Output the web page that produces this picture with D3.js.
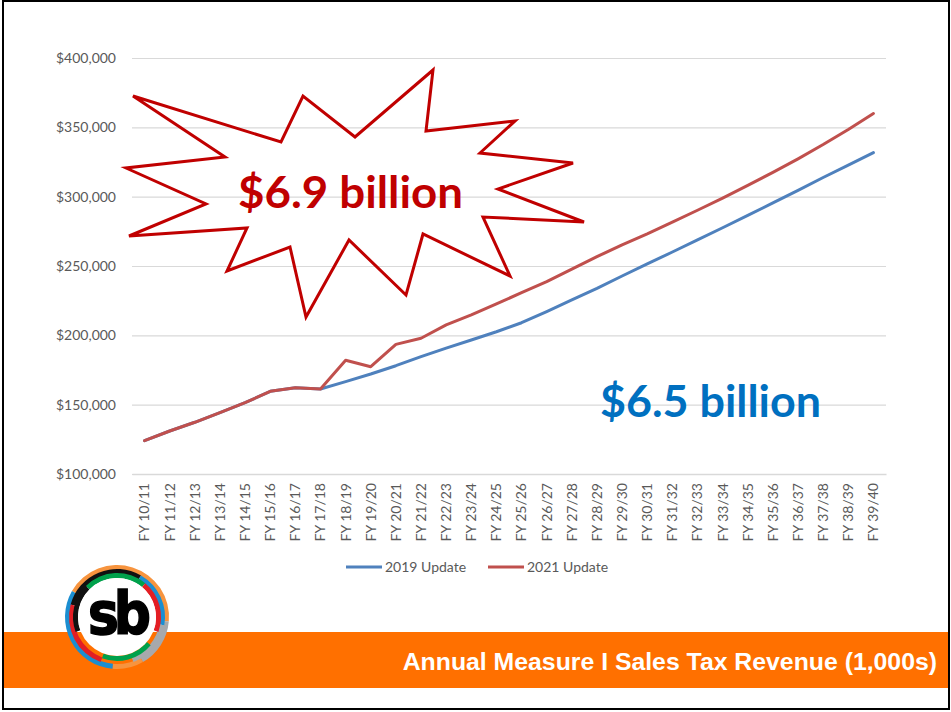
<!DOCTYPE html>
<html>
<head>
<meta charset="utf-8">
<script src="https://cdn.jsdelivr.net/npm/d3@7"></script>
<style>
  body { margin: 0; background: #fff; }
  svg { display: block; }
</style>
</head>
<body>
<div id="chart"></div>
<script>
// fiscal years on the x axis
var fiscalYears = ["FY 10/11", "FY 11/12", "FY 12/13", "FY 13/14", "FY 14/15", "FY 15/16",
  "FY 16/17", "FY 17/18", "FY 18/19", "FY 19/20", "FY 20/21", "FY 21/22", "FY 22/23",
  "FY 23/24", "FY 24/25", "FY 25/26", "FY 26/27", "FY 27/28", "FY 28/29", "FY 29/30",
  "FY 30/31", "FY 31/32", "FY 32/33", "FY 33/34", "FY 34/35", "FY 35/36", "FY 36/37",
  "FY 37/38", "FY 38/39", "FY 39/40"];

// revenue in $1,000s
var update2019 = [124000, 131000, 137300, 144200, 151400, 159600, 162200, 161300, 166600, 172100,
  178100, 184600, 190800, 196600, 202600, 209100, 217100, 225500, 233900, 242800,
  251500, 260100, 268800, 277600, 286500, 295500, 304600, 313800, 322800, 331800];
var update2021 = [124000, 131000, 137300, 144200, 151400, 159600, 162200, 161300, 182000, 177400,
  193500, 197900, 207500, 214700, 222600, 230800, 238700, 247800, 256700, 265300,
  273200, 281600, 290200, 299000, 308100, 317500, 327300, 337600, 348500, 360000];

var seriesNames = ["2019 Update", "2021 Update"];
var seriesColors = ["#4F81BD", "#C0504D"];
var yTicks = [100000, 150000, 200000, 250000, 300000, 350000, 400000];

var calloutBig = "$6.9 billion";
var calloutSmall = "$6.5 billion";
var footerTitle = "Annual Measure I Sales Tax Revenue (1,000s)";

var width = 951, height = 712;
var plot = {left: 132, right: 886, top: 58, bottom: 474};

var svg = d3.select("#chart").append("svg")
  .attr("width", width)
  .attr("height", height);

svg.append("rect").attr("width", width).attr("height", height).attr("fill", "#fff");

var x = d3.scaleBand().domain(fiscalYears).range([plot.left, plot.right]);
var y = d3.scaleLinear().domain([100000, 400000]).range([plot.bottom, plot.top]);
var cx = function(d) { return x(d) + x.bandwidth() / 2; };

// y axis + gridlines
var yAxis = svg.append("g")
  .attr("transform", "translate(" + plot.left + ",0)")
  .call(d3.axisLeft(y)
    .tickValues(yTicks)
    .tickSize(-(plot.right - plot.left))
    .tickPadding(16)
    .tickFormat(function(v) { return "$" + d3.format(",")(v); }));
yAxis.select(".domain").remove();
yAxis.selectAll("line").attr("stroke", "#D9D9D9").attr("stroke-width", 1.2);
yAxis.selectAll("text")
  .attr("fill", "#595959")
  .style("font-family", "Lato, 'Open Sans', sans-serif")
  .style("font-size", "14px");

// x axis with vertical labels
var xAxis = svg.append("g")
  .attr("transform", "translate(0," + plot.bottom + ")")
  .call(d3.axisBottom(x).tickSize(0));
xAxis.select(".domain").attr("stroke", "#D9D9D9").attr("stroke-width", 1.5);
xAxis.selectAll("text")
  .attr("transform", "rotate(-90)")
  .attr("x", -9)
  .attr("y", 0)
  .attr("dy", "0.35em")
  .style("text-anchor", "end")
  .attr("fill", "#595959")
  .style("font-family", "Lato, 'Open Sans', sans-serif")
  .style("font-size", "14px");

// lines
var line = d3.line()
  .x(function(d, i) { return cx(fiscalYears[i]); })
  .y(function(d) { return y(d); });

[update2019, update2021].forEach(function(values, k) {
  svg.append("path")
    .datum(values)
    .attr("fill", "none")
    .attr("stroke", seriesColors[k])
    .attr("stroke-width", 3)
    .attr("stroke-linejoin", "round")
    .attr("stroke-linecap", "round")
    .attr("d", line);
});

// legend
var legend = svg.append("g").attr("transform", "translate(346,567)");
var legendX = [0, 142];
seriesNames.forEach(function(name, k) {
  var g = legend.append("g").attr("transform", "translate(" + legendX[k] + ",0)");
  g.append("line").attr("x1", 0).attr("x2", 36).attr("y1", 0).attr("y2", 0)
    .attr("stroke", seriesColors[k]).attr("stroke-width", 3);
  g.append("text").attr("x", 39).attr("y", 0).attr("dy", "0.35em")
    .attr("fill", "#595959")
    .style("font-family", "Lato, 'Open Sans', sans-serif")
    .style("font-size", "14px")
    .text(name);
});

// starburst callout (hand-placed shape, like the slide's)
var burst = [[133, 96], [281, 142], [303, 96], [355, 137], [433, 70], [426, 131], [515, 121],
  [480, 153], [573, 163], [498, 189], [584, 222], [483, 217], [510, 276], [423, 234],
  [406, 295], [349, 240], [306, 317], [290, 247], [227, 271], [247, 228], [129, 236],
  [206, 204], [126, 168], [225, 157]];
svg.append("path")
  .attr("d", "M" + burst.join("L") + "Z")
  .attr("fill", "none")
  .attr("stroke", "#C00000")
  .attr("stroke-width", 3)
  .attr("stroke-linejoin", "miter");

svg.append("text")
  .attr("x", 238).attr("y", 208)
  .attr("textLength", 225).attr("lengthAdjust", "spacingAndGlyphs")
  .attr("fill", "#C00000")
  .style("font-family", "Lato, 'Open Sans', sans-serif")
  .style("font-weight", "bold")
  .style("font-size", "44px")
  .text(calloutBig);

svg.append("text")
  .attr("x", 600).attr("y", 417)
  .attr("textLength", 221).attr("lengthAdjust", "spacingAndGlyphs")
  .attr("fill", "#0070C0")
  .style("font-family", "Lato, 'Open Sans', sans-serif")
  .style("font-weight", "bold")
  .style("font-size", "44px")
  .text(calloutSmall);

// footer band
svg.append("rect")
  .attr("x", 3).attr("y", 632).attr("width", 946).attr("height", 56)
  .attr("fill", "#FF7000");
svg.append("text")
  .attr("x", 937).attr("y", 670)
  .attr("text-anchor", "end")
  .attr("fill", "#fff")
  .style("font-family", "'Liberation Sans', Arial, sans-serif")
  .style("font-weight", "bold")
  .style("font-size", "24.8px")
  .text(footerTitle);

// sb logo
var logo = svg.append("g").attr("transform", "translate(117,617)");
var rings = [
  {r0: 47, r1: 52, segs: [["#F7943E", -60, 95], ["#A7A9AC", 95, 150], ["#F7943E", 150, 185], ["#1B8ED1", 185, 300]]},
  {r0: 43, r1: 48, segs: [["#111", -75, 30], ["#1B8ED1", 30, 100], ["#A7A9AC", 100, 160], ["#E31E24", 200, 285]]},
  {r0: 39, r1: 44, segs: [["#00A14B", -45, 40], ["#E31E24", 40, 110], ["#00A14B", 130, 200], ["#111", 250, 315]]}
];
var arc = d3.arc();
rings.forEach(function(ring) {
  ring.segs.forEach(function(s) {
    logo.append("path")
      .attr("d", arc({innerRadius: ring.r0, outerRadius: ring.r1,
        startAngle: s[1] * Math.PI / 180, endAngle: s[2] * Math.PI / 180}))
      .attr("fill", s[0]);
  });
});
logo.append("circle").attr("r", 39).attr("fill", "#fff");
logo.append("text")
  .attr("x", 0).attr("y", 15)
  .attr("text-anchor", "middle")
  .attr("transform", "scale(1,1.12)")
  .attr("fill", "#000")
  .attr("stroke", "#000")
  .attr("stroke-width", 1.5)
  .style("font-family", "'DejaVu Sans', sans-serif")
  .style("font-weight", "bold")
  .style("font-size", "52px")
  .style("letter-spacing", "-5px")
  .text("sb");

// slide border
svg.append("rect")
  .attr("x", 3).attr("y", 1).attr("width", 946).attr("height", 708)
  .attr("fill", "none")
  .attr("stroke", "#000")
  .attr("stroke-width", 2);
</script>
</body>
</html>
